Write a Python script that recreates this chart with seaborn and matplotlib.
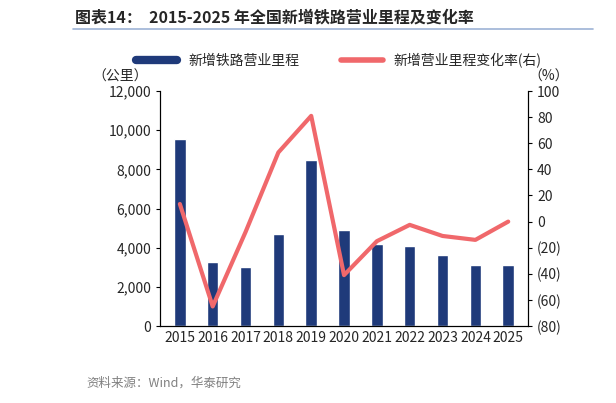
import matplotlib
matplotlib.use("Agg")
import matplotlib.pyplot as plt
import seaborn as sns
import pandas as pd
from matplotlib.lines import Line2D

years = ["2015","2016","2017","2018","2019","2020","2021","2022","2023","2024","2025"]
mileage = [9530, 3270, 3000, 4700, 8500, 4930, 4200, 4100, 3640, 3110, 3100]
change = [13.5, -65, -8, 53, 81, -41, -15, -2.5, -11, -14, 0]

sns.set_style("white")
plt.rcParams['font.family'] = ['Noto Sans CJK SC', 'DejaVu Sans']

df = pd.DataFrame({"year": years, "mileage": mileage, "change": change})
fig = plt.figure(figsize=(6.16, 4.03), dpi=100)
ax = fig.add_axes([0.26, 0.191, 0.597, 0.583])
sns.barplot(data=df, x="year", y="mileage", color="#1F3A7A", width=0.35, ax=ax, saturation=1)
ax.set_ylim(0, 12000)
ax.set_yticks(range(0, 12001, 2000))
ax.set_yticklabels([f"{v:,}" for v in range(0, 12001, 2000)], fontsize=10)
ax.set_xlabel(""); ax.set_ylabel("")
ax.tick_params(axis='x', labelsize=10, length=0)
ax2 = ax.twinx()
sns.lineplot(x=list(range(len(years))), y=change, color="#F0686B", linewidth=3, ax=ax2)
ax2.set_ylim(-80, 100)
ax2.set_yticks(range(-80, 101, 20))
ax2.set_yticklabels([f"({-v})" if v < 0 else str(v) for v in range(-80, 101, 20)], fontsize=10)
ax.set_xlim(-0.6, len(years) - 0.4)
for a in (ax, ax2):
    a.spines["top"].set_visible(False)
    for s in ["left", "right", "bottom"]:
        a.spines[s].set_color("black")
ax.tick_params(axis='y', length=3, color='black', direction='out', left=True)
ax2.tick_params(axis='y', length=3, color='black', direction='out', right=True)

fig.text(0.195, 0.80, "（公里）", fontsize=10, ha="center")
fig.text(0.89, 0.80, "（%）", fontsize=10, ha="center")
fig.text(0.122, 0.945, "图表14：  2015-2025 年全国新增铁路营业里程及变化率", fontsize=11.5, fontweight="bold")
fig.add_artist(Line2D([0.118, 0.963], [0.928, 0.928], color="#9DB3D6", linewidth=1.2))
fig.text(0.14, 0.04, "资料来源：Wind，华泰研究", fontsize=9, color="#808080")

handles = [Line2D([0], [0], color="#1F3A7A", linewidth=6), Line2D([0], [0], color="#F0686B", linewidth=4, solid_capstyle="round")]
fig.legend(handles, ["新增铁路营业里程", "新增营业里程变化率(右)"], loc="center",
           bbox_to_anchor=(0.55, 0.85), ncol=2, frameon=False, fontsize=10,
           handlelength=3, columnspacing=3)
fig.savefig("out.png", dpi=100)
